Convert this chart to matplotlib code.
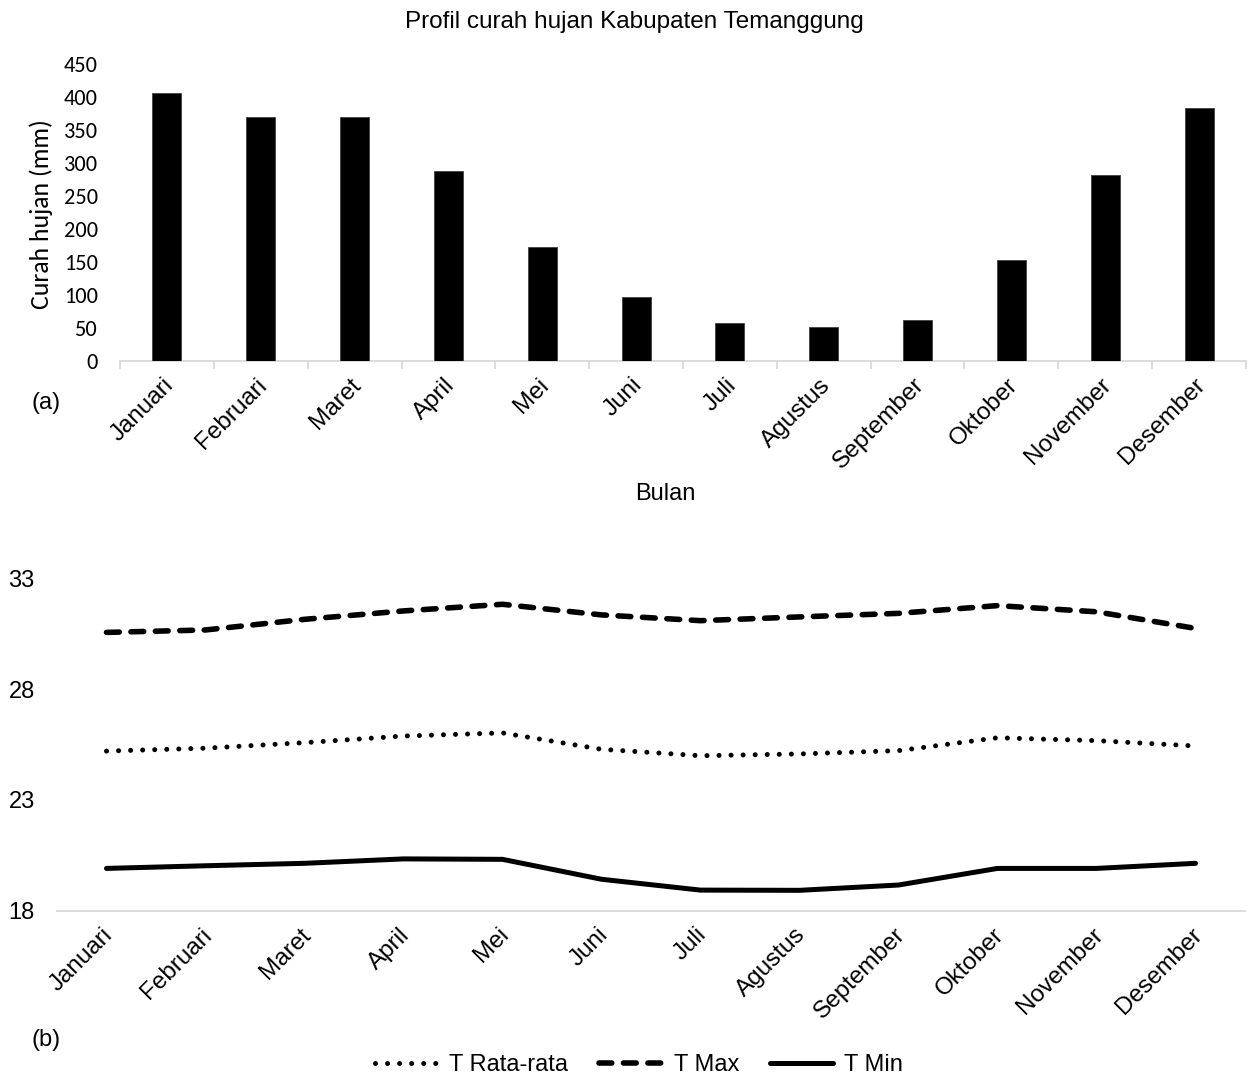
import matplotlib
matplotlib.use("Agg")
import matplotlib.pyplot as plt
from matplotlib.transforms import ScaledTranslation
import numpy as np

months = ["Januari", "Februari", "Maret", "April", "Mei", "Juni", "Juli",
          "Agustus", "September", "Oktober", "November", "Desember"]
rain = [405, 369, 370, 287, 172, 97, 58, 51, 62, 153, 281, 383]
t_max = [30.57, 30.68, 31.16, 31.54, 31.84, 31.36, 31.10, 31.27, 31.43, 31.78, 31.50, 30.75]
t_avg = [25.21, 25.34, 25.59, 25.89, 26.03, 25.29, 25.00, 25.08, 25.23, 25.81, 25.68, 25.44]
t_min = [19.91, 20.03, 20.14, 20.34, 20.32, 19.42, 18.93, 18.92, 19.16, 19.91, 19.91, 20.14]
rain_ticks = list(range(0, 451, 50))
temp_ticks = [18, 23, 28, 33]

plt.rcParams['font.family'] = ['Liberation Sans', 'DejaVu Sans']
W, H = 1249, 1080
fig = plt.figure(figsize=(W / 100, H / 100), dpi=100)
GREY = '#d9d9d9'
calibri = ['Carlito', 'Lato', 'DejaVu Sans']

def fx(px):
    return px / W

def fy(py):
    return 1 - py / H

x = np.arange(len(months))

# ---------- (a) bar chart ----------
ax1 = fig.add_axes([fx(120), fy(361), (1246 - 120) / W, (361 - 63.7) / H])
ax1.bar(x, rain, width=0.31, color='black', edgecolor='#404040', linewidth=0.6, zorder=3)
ax1.set_xlim(-0.5, len(months) - 0.5)
ax1.set_ylim(0, 450)
ax1.set_yticks(rain_ticks)
ax1.set_yticklabels([str(v) for v in rain_ticks], family=calibri, fontsize=16)
ax1.tick_params(axis='y', length=0, pad=16)
for s in ['top', 'right', 'left']:
    ax1.spines[s].set_visible(False)
ax1.spines['bottom'].set_color(GREY)
ax1.spines['bottom'].set_linewidth(1.3)
ax1.set_xticks(x)
ax1.set_xticklabels(months, rotation=45, ha='right', va='center',
                    rotation_mode='anchor', fontsize=17.5)
ax1.tick_params(axis='x', which='major', length=0, pad=15)
ax1.set_xticks(np.arange(-0.5, len(months), 1.0), minor=True)
ax1.tick_params(axis='x', which='minor', length=5.5, width=1.3, color=GREY)
for lab in ax1.get_xticklabels():
    lab.set_transform(lab.get_transform() + ScaledTranslation(3 / 100, 0, fig.dpi_scale_trans))

fig.text(fx(634), fy(22), "Profil curah hujan Kabupaten Temanggung",
         ha='center', va='center', fontsize=17.5)
fig.text(fx(41.5), fy(214), "Curah hujan (mm)", rotation=90, ha='center', va='center',
         family=calibri, fontsize=18.5)
fig.text(fx(665), fy(494), "Bulan", ha='center', va='center', fontsize=17)
fig.text(fx(46), fy(403), "(a)", ha='center', va='center', fontsize=17)

# ---------- (b) line chart ----------
ax2 = fig.add_axes([fx(57), fy(910.7), (1245 - 57) / W, (910.7 - 578.6) / H])
ax2.plot(x, t_avg, color='black', lw=3.6, linestyle=(0, (0.01, 2.4)),
         dash_capstyle='round', solid_capstyle='round', label='T Rata-rata')
ax2.plot(x, t_max, color='black', lw=4.0, linestyle=(0, (2.3, 2.1)),
         dash_capstyle='round', label='T Max')
ax2.plot(x, t_min, color='black', lw=3.6, solid_capstyle='round', label='T Min')
ax2.set_xlim(-0.5, len(months) - 0.5)
ax2.set_ylim(18, 33)
ax2.set_yticks(temp_ticks)
ax2.set_yticklabels([str(v) for v in temp_ticks], fontsize=17)
ax2.tick_params(axis='y', length=0, pad=16)
for s in ['top', 'right', 'left']:
    ax2.spines[s].set_visible(False)
ax2.spines['bottom'].set_color(GREY)
ax2.spines['bottom'].set_linewidth(1.3)
ax2.set_xticks(x)
ax2.set_xticklabels(months, rotation=45, ha='right', va='center',
                    rotation_mode='anchor', fontsize=17.5)
ax2.tick_params(axis='x', which='major', length=0, pad=15)
for lab in ax2.get_xticklabels():
    lab.set_transform(lab.get_transform() + ScaledTranslation(3 / 100, 0, fig.dpi_scale_trans))

fig.text(fx(46), fy(1040), "(b)", ha='center', va='center', fontsize=17)

ax2.legend(loc='center', bbox_to_anchor=(fx(639), fy(1065)), bbox_transform=fig.transFigure,
           ncol=3, frameon=False, fontsize=17, handlelength=2.7, handletextpad=0.45,
           columnspacing=1.3, borderaxespad=0, borderpad=0)

fig.savefig("out.png", dpi=100)
